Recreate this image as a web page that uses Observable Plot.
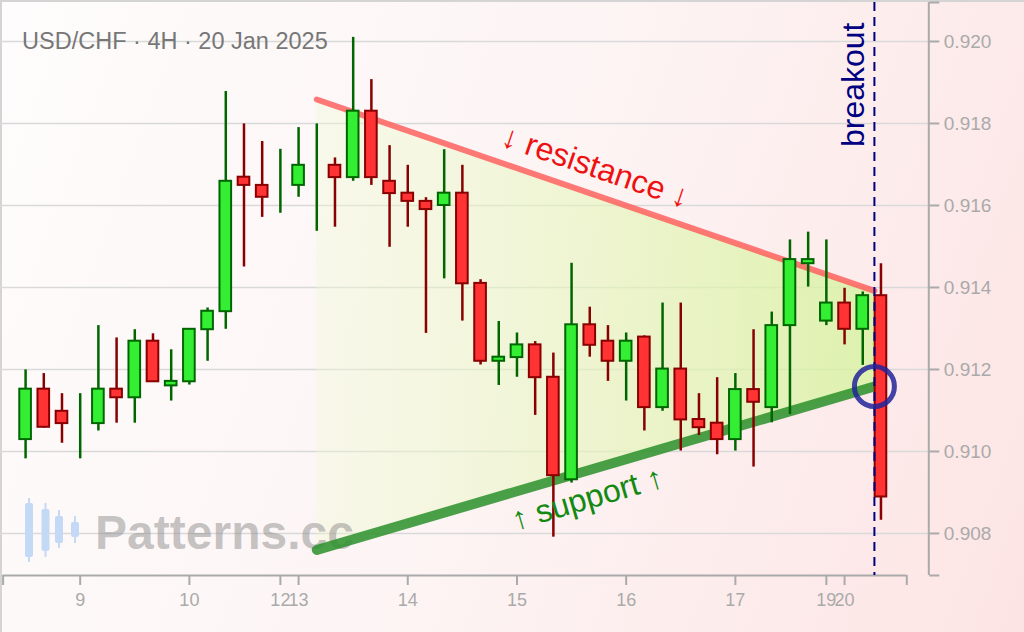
<!DOCTYPE html>
<html>
<head>
<meta charset="utf-8">
<script src="https://cdn.jsdelivr.net/npm/d3@7"></script>
<script src="https://cdn.jsdelivr.net/npm/@observablehq/plot@0.6"></script>
<style>
  html, body { margin: 0; padding: 0; background: #fff; }
  #chart svg { display: block; }
</style>
</head>
<body>
<div id="chart"></div>
<script>
// ---- data (USD/CHF 4H candles) ----
const candleIndex = [0,1,2,3,4,5,6,7,8,9,10,11,12,13,14,15,16,17,18,19,20,21,22,23,24,25,26,27,28,29,30,31,32,33,34,35,36,37,38,39,40,41,42,43,44,45,46,47];
const openPrices  = [0.91029,0.91152,0.91098,0.91100,0.91068,0.91152,0.91131,0.91269,0.91160,0.91170,0.91297,0.91341,0.91669,0.91649,0.91650,0.91649,0.91660,0.91698,0.91668,0.91830,0.91659,0.91630,0.91610,0.91600,0.91630,0.91410,0.91220,0.91229,0.91260,0.91181,0.90931,0.91309,0.91269,0.91220,0.91279,0.91107,0.91201,0.91078,0.91069,0.91029,0.91151,0.91107,0.91307,0.91458,0.91318,0.91362,0.91298,0.91380];
const highPrices  = [0.91199,0.91190,0.91141,0.91141,0.91307,0.91277,0.91297,0.91287,0.91248,0.91298,0.91350,0.91878,0.91799,0.91756,0.91737,0.91790,0.91799,0.91716,0.92010,0.91907,0.91746,0.91698,0.91619,0.91736,0.91698,0.91419,0.91317,0.91289,0.91268,0.91240,0.91459,0.91352,0.91307,0.91289,0.91282,0.91362,0.91362,0.91141,0.91180,0.91190,0.91297,0.91340,0.91516,0.91535,0.91516,0.91398,0.91389,0.91458];
const lowPrices   = [0.90982,0.91057,0.91020,0.90982,0.91050,0.91069,0.91069,0.91170,0.91123,0.91162,0.91220,0.91298,0.91450,0.91571,0.91581,0.91620,0.91537,0.91547,0.91659,0.91649,0.91498,0.91547,0.91288,0.91421,0.91318,0.91211,0.91161,0.91181,0.91088,0.90791,0.90923,0.91230,0.91171,0.91123,0.91050,0.91098,0.91001,0.91039,0.90992,0.91001,0.90962,0.91070,0.91090,0.91401,0.91307,0.91260,0.91210,0.90832];
const closePrices = [0.91152,0.91059,0.91068,0.91100,0.91152,0.91131,0.91269,0.91170,0.91171,0.91298,0.91342,0.91659,0.91649,0.91620,0.91650,0.91698,0.91660,0.91668,0.91830,0.91668,0.91629,0.91610,0.91590,0.91630,0.91409,0.91220,0.91230,0.91260,0.91180,0.90941,0.91309,0.91259,0.91220,0.91269,0.91107,0.91201,0.91077,0.91058,0.91029,0.91151,0.91120,0.91307,0.91468,0.91468,0.91362,0.91298,0.91380,0.90889];

// x tick positions (candle index of each day's first bar) and labels
const xTickIndex  = [3, 9, 14, 15, 21, 27, 33, 39, 44, 45];
const xTickLabels = ["9", "10", "12", "13", "14", "15", "16", "17", "19", "20"];
const yTicks = [0.908, 0.910, 0.912, 0.914, 0.916, 0.918, 0.920];

// triangle trend lines
const trendX      = [16, 46.64];
const resistanceY = [0.918585, 0.913917];
const supportY    = [0.907598, 0.911585];
const breakoutIndex = 46.64;
const breakoutPrice = 0.911585;

const titleText = "USD/CHF · 4H · 20 Jan 2025";
const resistanceLabel = "↓ resistance ↓";
const supportLabel = "↑ support ↑";
const breakoutLabel = "breakout";
const watermarkText = "Patterns.cc";
const resistanceLabelAt = 31.31;
const supportLabelAt = 30.87;

// ---- derived tables ----
const xDomain = [-1.236, 48.42];
const yDomain = [0.906975, 0.920951];

const candles = candleIndex.map((i, k) => ({
  i, open: openPrices[k], high: highPrices[k], low: lowPrices[k], close: closePrices[k],
  up: closePrices[k] >= openPrices[k]
}));
const bodies = candles.filter(d => d.open !== d.close);
const trend = trendX.map((x, k) => ({x, res: resistanceY[k], sup: supportY[k]}));
const interp = (xs, ys, x) => ys[0] + (ys[1] - ys[0]) * (x - xs[0]) / (xs[1] - xs[0]);
const resLabel = [{x: resistanceLabelAt, y: interp(trendX, resistanceY, resistanceLabelAt), t: resistanceLabel}];
const supLabel = [{x: supportLabelAt, y: interp(trendX, supportY, supportLabelAt), t: supportLabel}];

const resAngle = 18.9, supAngle = -16.3;

const defs = () => {
  const ns = "http://www.w3.org/2000/svg";
  const d = document.createElementNS(ns, "defs");
  d.innerHTML = `
    <linearGradient id="triFill" x1="0" x2="1" y1="0" y2="0">
      <stop offset="0" stop-color="#eefad2" stop-opacity="0.35"/>
      <stop offset="0.5" stop-color="#e4f6b8" stop-opacity="0.6"/>
      <stop offset="1" stop-color="#d6f39f" stop-opacity="0.8"/>
    </linearGradient>`;
  return d;
};

// small watermark logo (decorative)
const logo = () => {
  const ns = "http://www.w3.org/2000/svg";
  const g = document.createElementNS(ns, "g");
  const bars = [[29, 498, 562, 503, 557], [45.5, 503, 557, 509, 551], [59, 510, 548, 516, 543], [75, 516, 543, 522, 537]];
  let html = "";
  for (const [cx, w1, w2, b1, b2] of bars) {
    html += `<line x1="${cx}" x2="${cx}" y1="${w1}" y2="${w2}" stroke="#c4d9f5" stroke-width="2"/>`;
    html += `<rect x="${cx - 4}" y="${b1}" width="8" height="${b2 - b1}" rx="2" fill="#c4d9f5"/>`;
  }
  g.innerHTML = html;
  return g;
};

const chart = Plot.plot({
  width: 1024,
  height: 632,
  marginLeft: 2.6,
  marginRight: 117.7,
  marginTop: 2,
  marginBottom: 57,
  x: {domain: xDomain},
  y: {domain: yDomain},
  style: {
    fontFamily: "'Liberation Sans', Arial, sans-serif",
    background: "linear-gradient(110deg, #fefcfc 0%, #fdf4f4 50%, #fde4e4 100%)",
    boxShadow: "inset 2px 2px 0 #d4d4d4",
    color: "#aaa"
  },
  marks: [
    defs,
    // grid
    Plot.ruleY(yTicks, {x1: xDomain[0] - 0.15, x2: xDomain[1] + 1.19, stroke: "#d9d9d9", strokeWidth: 1.5}),
    // triangle fill
    Plot.areaY(trend, {x: "x", y1: "sup", y2: "res", fill: "url(#triFill)"}),
    // watermark
    logo,
    Plot.text([watermarkText], {frameAnchor: "bottom-left", dx: 92, dy: -42, textAnchor: "start", lineAnchor: "middle",
      fontSize: 48, fontWeight: "bold", fill: "#808080", fillOpacity: 0.45}),
    // axes
    Plot.ruleY([yDomain[0]], {stroke: "#aaa", strokeWidth: 2}),
    Plot.axisX({ticks: [xDomain[0], ...xTickIndex, xDomain[1]],
      tickFormat: d => { const k = xTickIndex.indexOf(d); return k < 0 ? "" : xTickLabels[k]; },
      tickSize: 10, tickPadding: 8, fontSize: 18, color: "#aaa", strokeWidth: 2}),
    Plot.ruleX([xDomain[1]], {dx: 22, stroke: "#aaa", strokeWidth: 2}),
    Plot.axisY({anchor: "right", ticks: [yDomain[0], ...yTicks, yDomain[1]],
      tickFormat: d => yTicks.includes(d) ? d.toFixed(3) : "",
      tickSize: 10, tickPadding: 5, dx: 22, fontSize: 19, color: "#aaa", strokeWidth: 2}),
    // trend lines
    Plot.line(trend, {x: "x", y: "res", stroke: "#ff5555", strokeOpacity: 0.78, strokeWidth: 6, strokeLinecap: "round"}),
    Plot.line(trend, {x: "x", y: "sup", stroke: "#2a8f2a", strokeOpacity: 0.85, strokeWidth: 10, strokeLinecap: "round"}),
    // candles
    Plot.ruleX(candles, {x: "i", y1: "low", y2: "high", stroke: d => d.up ? "#006600" : "#880000", strokeWidth: 2.5}),
    Plot.rect(bodies, {x1: d => d.i - 0.32, x2: d => d.i + 0.32, y1: "open", y2: "close",
      fill: d => d.up ? "#33ee33" : "#ff3333", stroke: d => d.up ? "#006600" : "#880000", strokeWidth: 2}),
    // breakout
    Plot.ruleX([breakoutIndex], {stroke: "#000080", strokeWidth: 2, strokeDasharray: "9,6"}),
    Plot.dot([{x: breakoutIndex, y: breakoutPrice}], {x: "x", y: "y", r: 20, stroke: "#22229a", strokeOpacity: 0.85, strokeWidth: 5, fill: "none"}),
    Plot.text([breakoutLabel], {x: () => breakoutIndex, frameAnchor: "top", rotate: -90, textAnchor: "end", lineAnchor: "middle",
      dx: -21, dy: 20, fontSize: 32, fill: "#000080"}),
    // labels
    Plot.text(resLabel, {x: "x", y: "y", text: "t", rotate: resAngle, dy: -28, fontSize: 32, fill: "#ee1111", textAnchor: "middle", lineAnchor: "middle"}),
    Plot.text(supLabel, {x: "x", y: "y", text: "t", rotate: supAngle, dy: 28, fontSize: 32, fill: "#128a12", textAnchor: "middle", lineAnchor: "middle"}),
    // title
    Plot.text([titleText], {frameAnchor: "top-left", dx: 19, dy: 39, textAnchor: "start", lineAnchor: "middle", fontSize: 23.5, fill: "#777"})
  ]
});
document.getElementById("chart").appendChild(chart);
</script>
</body>
</html>
